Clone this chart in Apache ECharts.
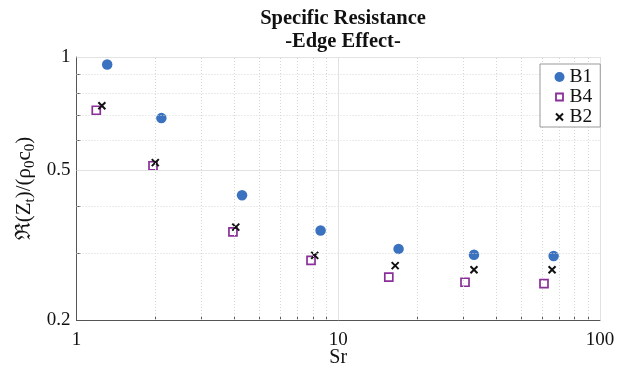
<!DOCTYPE html>
<html>
<head>
<meta charset="utf-8">
<script src="https://cdn.jsdelivr.net/npm/echarts@6/dist/echarts.min.js"></script>
<style>
  html, body { margin: 0; padding: 0; background: #fff; }
  #chart { width: 629px; height: 369px; }
</style>
</head>
<body>
<div id="chart"></div>
<script>
// data (log-log)
const b1X = [1.31, 2.11, 4.29, 8.56, 17.0, 33.0, 66.5]
const b1Y = [0.955, 0.688, 0.429, 0.346, 0.309, 0.298, 0.296]
const b4X = [1.19, 1.96, 3.96, 7.87, 15.6, 30.5, 61.1]
const b4Y = [0.722, 0.514, 0.343, 0.288, 0.260, 0.252, 0.250]
const b2X = [1.25, 2.0, 4.06, 8.13, 16.5, 33.0, 65.6]
const b2Y = [0.742, 0.524, 0.353, 0.297, 0.279, 0.272, 0.272]

const xMajor = [1, 10, 100]
const xMinor = [2, 3, 4, 5, 6, 7, 8, 9, 20, 30, 40, 50, 60, 70, 80, 90]
const yMajor = [0.2, 0.5, 1]
const yMinor = [0.3, 0.4, 0.6, 0.7, 0.8, 0.9]

const serif = 'Liberation Serif'
const zip = (xs, ys) => xs.map((x, i) => [x, ys[i]])

const chart = echarts.init(document.getElementById('chart'))

const gridLines = [
  ...xMinor.map((v) => ({ xAxis: v, lineStyle: { type: [1, 2], color: '#d6d6d6' } })),
  ...yMinor.map((v) => ({ yAxis: v, lineStyle: { type: [1, 2], color: '#d6d6d6' } })),
  ...xMajor.slice(1).map((v) => ({ xAxis: v, lineStyle: { type: 'solid', color: '#e2e2e2' } })),
  ...yMajor.slice(1).map((v) => ({ yAxis: v, lineStyle: { type: 'solid', color: '#e2e2e2' } })),
]

// marker shapes, the moveTo corners keep some empty margin around them in the legend
const squareIcon = 'path://M0,0M10,10M1.5,1.5L8.5,1.5L8.5,8.5L1.5,8.5Z'
const crossIcon = 'path://M0,0M10,10M1.5,1.5L8.5,8.5M8.5,1.5L1.5,8.5'
const crossPath = 'path://M0,0L10,10M10,0L0,10'

chart.setOption({
  animation: false,
  backgroundColor: '#fff',
  title: {
    text: 'Specific Resistance\n-Edge Effect-',
    left: 338,
    textAlign: 'center',
    top: 2,
    textStyle: { fontFamily: serif, fontWeight: 'bold', fontSize: 20.5, lineHeight: 23, color: '#111' },
  },
  legend: {
    orient: 'vertical',
    left: 540,
    top: 64,
    z: 10,
    itemWidth: 10,
    itemHeight: 10,
    itemGap: 0,
    itemTextGap: 9,
    padding: [3, 8, 0, 12],
    borderColor: '#999',
    borderWidth: 1,
    backgroundColor: '#fff',
    textStyle: { fontFamily: serif, fontSize: 19.5, lineHeight: 20, color: '#111' },
    data: [
      { name: 'B1', icon: 'circle', itemStyle: { color: '#3a72c0', borderWidth: 0 } },
      { name: 'B4', icon: squareIcon, itemStyle: { color: '#fff', borderColor: '#8a2f99', borderWidth: 1.8 } },
      { name: 'B2', icon: crossIcon, itemStyle: { color: 'none', borderColor: '#111', borderWidth: 2 } },
    ],
  },
  grid: { left: 76.5, right: 29, top: 57, bottom: 49, outerBoundsMode: 'none' },
  xAxis: {
    type: 'log',
    logBase: 10,
    min: 1,
    max: 100,
    name: 'Sr',
    nameLocation: 'middle',
    nameGap: 28,
    nameMoveOverlap: false,
    nameTextStyle: { fontFamily: serif, fontSize: 20, color: '#111' },
    axisLine: { lineStyle: { color: '#555' } },
    axisTick: { inside: true, length: 4, customValues: [...xMajor, ...xMinor], lineStyle: { color: '#555' } },
    axisLabel: { customValues: xMajor, margin: 11, fontFamily: serif, fontSize: 19, color: '#111' },
    splitLine: { show: false },
  },
  yAxis: {
    type: 'log',
    logBase: 10,
    min: 0.2,
    max: 1,
    name: '{n|ℜ(Z}{s|t}{n|)/(ρ}{s|0}{n|c}{s|0}{n|)}',
    nameLocation: 'middle',
    nameRotate: 90,
    nameGap: 39,
    nameMoveOverlap: false,
    nameTextStyle: {
      fontFamily: serif,
      fontSize: 20,
      color: '#111',
      rich: {
        n: { fontFamily: serif, fontSize: 21, color: '#111', lineHeight: 26 },
        s: { fontFamily: serif, fontSize: 15, color: '#111', lineHeight: 26, padding: [12, 0, 0, 0] },
      },
    },
    axisLine: { lineStyle: { color: '#555' } },
    axisTick: { inside: true, length: 4, customValues: [...yMajor, ...yMinor], lineStyle: { color: '#555' } },
    axisLabel: { customValues: yMajor, margin: 6, fontFamily: serif, fontSize: 19, color: '#111' },
    splitLine: { show: false },
  },
  series: [
    {
      name: 'grid',
      type: 'scatter',
      data: [],
      silent: true,
      z: 1,
      markLine: {
        silent: true,
        symbol: 'none',
        label: { show: false },
        animation: false,
        data: gridLines,
      },
    },
    {
      name: 'B1',
      type: 'scatter',
      symbol: 'circle',
      symbolSize: 10.5,
      itemStyle: { color: '#3a72c0', opacity: 1 },
      data: zip(b1X, b1Y),
      z: 3,
    },
    {
      name: 'B4',
      type: 'scatter',
      symbol: 'rect',
      symbolSize: 8,
      itemStyle: { color: '#fff', borderColor: '#8a2f99', borderWidth: 1.7, opacity: 1 },
      data: zip(b4X, b4Y),
      z: 3,
    },
    {
      name: 'B2',
      type: 'scatter',
      symbol: crossPath,
      symbolSize: 7,
      itemStyle: { color: 'none', borderColor: '#111', borderWidth: 2, opacity: 1 },
      data: zip(b2X, b2Y),
      z: 4,
    },
  ],
})
</script>
</body>
</html>
